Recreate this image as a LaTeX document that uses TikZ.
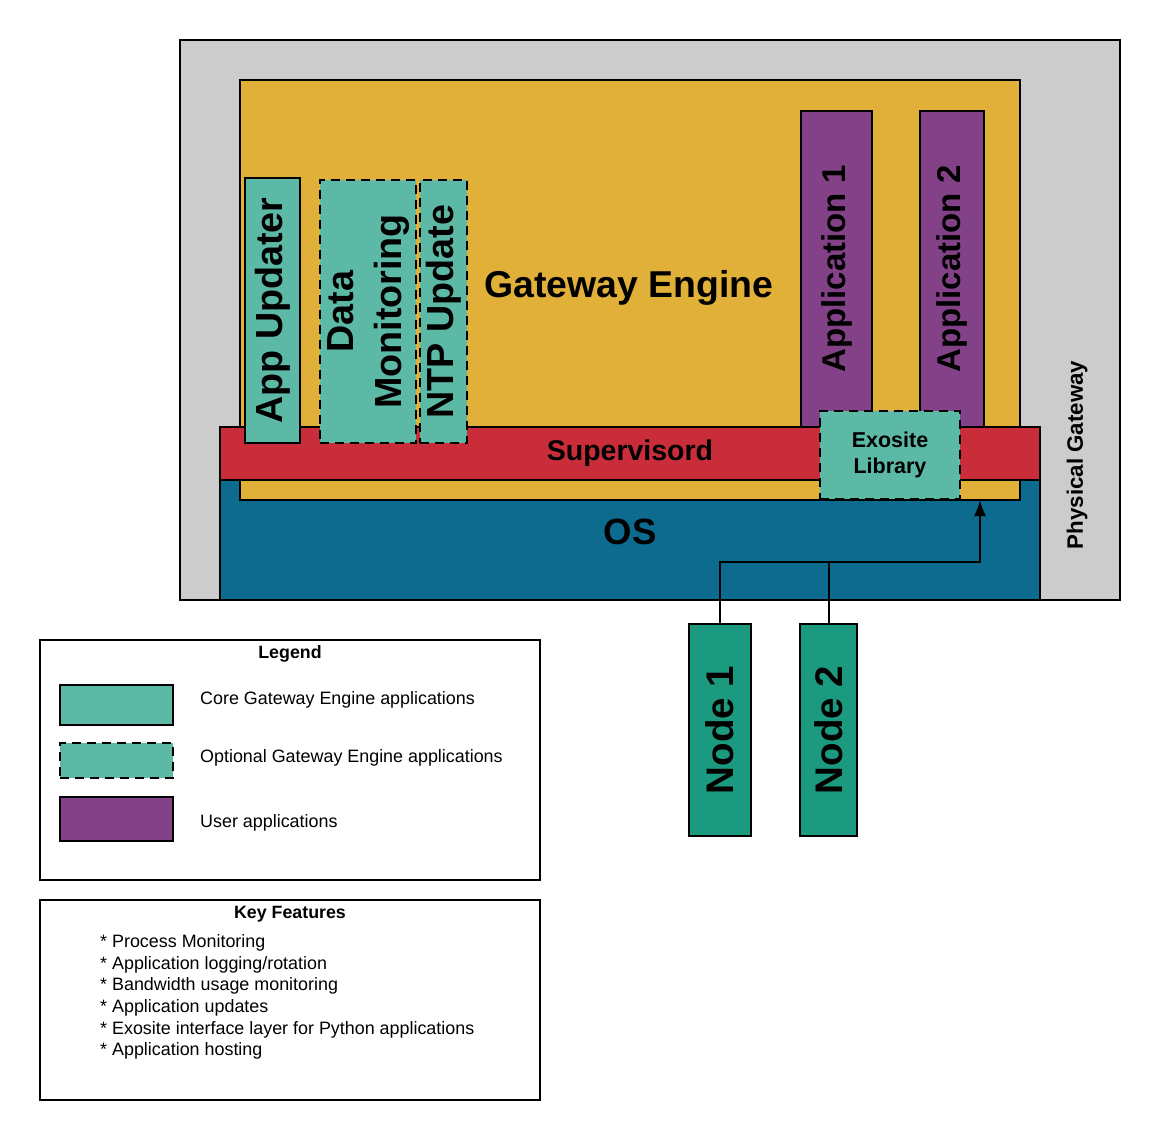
\documentclass[tikz,border=0pt]{standalone}
\usepackage{fontspec}
\setmainfont{Liberation Sans}
\usetikzlibrary{arrows.meta}
\definecolor{pgray}{HTML}{CCCCCC}
\definecolor{gorange}{HTML}{E0B038}
\definecolor{sred}{HTML}{C92D39}
\definecolor{upurple}{HTML}{834187}
\definecolor{cteal}{HTML}{5CB9A6}
\definecolor{osblue}{HTML}{0C6B8F}
\definecolor{ngreen}{HTML}{1C9A7F}
\newcommand{\fs}[1]{\fontsize{#1}{#1}\selectfont}
\tikzset{
  box/.style={draw=black, line width=2pt, inner sep=0pt, outer sep=0pt},
  optdash/.style={dash pattern=on 9pt off 6pt},
  big/.style={font=\bfseries\fs{37.7}},
  legtext/.style={font=\fs{17.9}, anchor=west, inner sep=0pt},
}
\begin{document}
\begin{tikzpicture}[x=1pt,y=-1pt]
\useasboundingbox (0,0) rectangle (1160,1140);
% physical gateway
\node[box, fill=pgray, minimum width=940, minimum height=560] (pg) at (650,320) {};
\node[font=\bfseries\fs{22.3}, inner sep=0pt] (pgtext) at (1077,455) {\rotatebox{90}{Physical Gateway}};
% OS
\node[box, fill=osblue, minimum width=820, minimum height=120] (os) at (630,540) {};
\node[font=\bfseries\fs{36.5}, inner sep=0pt] (ostext) at (630,532) {OS};
% Gateway engine
\node[box, fill=gorange, minimum width=780, minimum height=420] (ge) at (630,290) {};
\node[font=\bfseries\fs{37.4}, inner sep=0pt] (getext) at (629,288) {Gateway Engine};
% Supervisord
\node[box, fill=sred, minimum width=820, minimum height=53, font=\bfseries\fs{28.5}] (sup) at (630,453.5) {Supervisord};
% applications
\node[box, fill=upurple, minimum width=71, minimum height=316, font=\bfseries\fs{33}] (app1) at (836.5,269) {\rotatebox{90}{Application 1}};
\node[box, fill=upurple, minimum width=64, minimum height=316, font=\bfseries\fs{33}] (app2) at (952,269) {\rotatebox{90}{Application 2}};
% exosite library
\node[box, optdash, fill=cteal, minimum width=140, minimum height=88, font=\bfseries\fontsize{21.5}{26.5}\selectfont, align=center] (exo) at (890,455) {Exosite\\Library};
% core / optional apps
\node[box, fill=cteal, minimum width=55, minimum height=265, big] (appupd) at (272.5,310.5) {\rotatebox{90}{App Updater}};
\node[box, optdash, fill=cteal, minimum width=95, minimum height=263, font=\bfseries] (datamon) at (367.5,311.5) {\rotatebox{90}{\fontsize{37.7}{48}\selectfont\begin{tabular}{@{}c@{}}Data\\Monitoring\end{tabular}}};
\node[box, optdash, fill=cteal, minimum width=47, minimum height=263, big] (ntp) at (443.5,311.5) {\rotatebox{90}{NTP Update}};
% nodes
\node[box, fill=ngreen, minimum width=62, minimum height=212, font=\bfseries\fs{38.5}] (n1) at (720,730) {\rotatebox{90}{Node 1}};
\node[box, fill=ngreen, minimum width=57, minimum height=212, font=\bfseries\fs{38.5}] (n2) at (828.5,730) {\rotatebox{90}{Node 2}};
% connectors
\coordinate (join) at (828,562);
\coordinate (tgt) at (980,500);
\draw[line width=2pt, -{Latex[length=16pt,width=12pt]}] (n1.north) |- (join) -| (tgt);
\draw[line width=2pt] (n2.north) -- (n2.north |- join);
% legend
\node[box, fill=white, minimum width=500, minimum height=240] (legend) at (290,760) {};
\node[font=\bfseries\fs{17.8}, inner sep=0pt] (legtitle) at (290,654) {Legend};
\node[box, fill=cteal, minimum width=113, minimum height=40] (lcore) at (116.5,705) {};
\node[box, optdash, fill=cteal, minimum width=113, minimum height=35] (lopt) at (116.5,760.5) {};
\node[box, fill=upurple, minimum width=113, minimum height=44] (luser) at (116.5,819) {};
\node[legtext] (tcore) at (200,699.5) {Core Gateway Engine applications};
\node[legtext] (topt) at (200,757.5) {Optional Gateway Engine applications};
\node[legtext] (tuser) at (200,822.5) {User applications};
% key features
\node[box, fill=white, minimum width=500, minimum height=200] (key) at (290,1000) {};
\node[font=\bfseries\fs{17.8}, inner sep=0pt] (keytitle) at (290,914) {Key Features};
\node[font=\fontsize{17.9}{21.6}\selectfont, align=left, anchor=north west, inner sep=0pt] (keylist) at (100,934.5) {* Process Monitoring\\* Application logging/rotation\\* Bandwidth usage monitoring\\* Application updates\\* Exosite interface layer for Python applications\\* Application hosting};
\end{tikzpicture}
\end{document}
